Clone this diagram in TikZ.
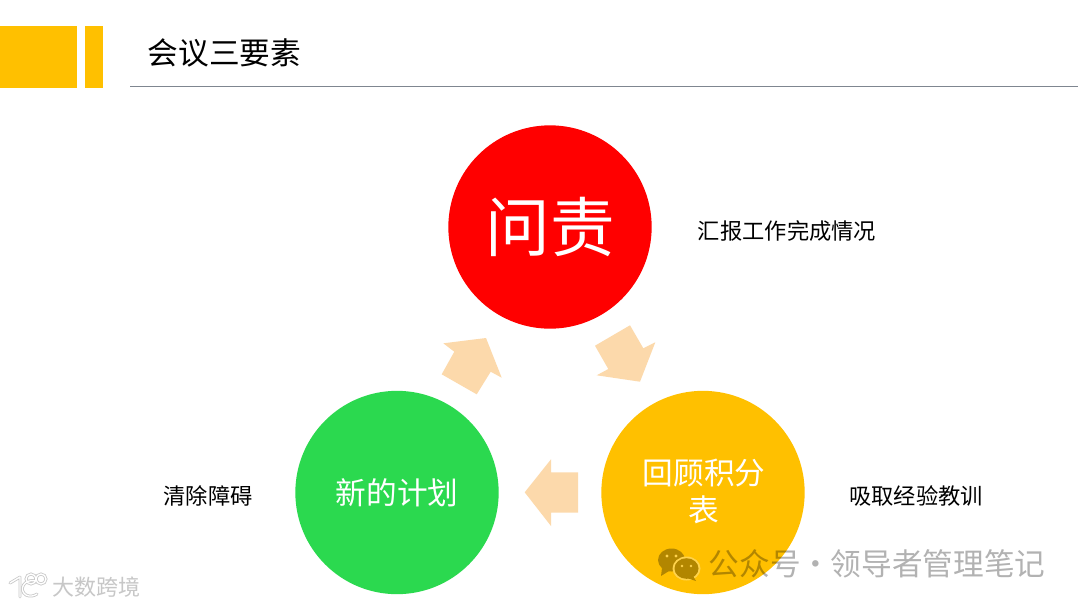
\documentclass[tikz,border=0pt]{standalone}
\usepackage{fontspec}
\setmainfont{Noto Sans CJK SC}
\newfontfamily\cjk{Noto Sans CJK SC}
\usetikzlibrary{calc}
\definecolor{amber}{HTML}{FFC000}
\definecolor{peach}{HTML}{FCD9AB}
\definecolor{leaf}{HTML}{2BD94F}
\definecolor{rulegray}{HTML}{7F8690}
\tikzset{
  x=0.75pt,y=-0.75pt,
  disc/.style={circle,minimum size=152.5pt,inner sep=0pt,text=white,align=center},
  blockarrow/.style={fill=peach,draw=none},
  note/.style={inner sep=0pt,text=black,font=\cjk\fontsize{16.7}{20}\selectfont},
  mark text/.style={inner sep=0pt,text=black,text opacity=0.3,font=\cjk\fontsize{23}{26}\selectfont},
}
\begin{document}
\begin{tikzpicture}
\useasboundingbox (0,0) rectangle (1080,607);
\fill[white] (0,0) rectangle (1080,607);
% header
\fill[amber] (0,26) rectangle (77,88);
\fill[amber] (85,26) rectangle (103,88);
\node[inner sep=0pt,font=\cjk\fontsize{23}{26}\selectfont] (title) at (224.5,53) {会议三要素};
\draw[rulegray,line width=0.9pt] (130,86.5) -- (1078,86.5);
% circles
\node[disc,fill=red,font=\cjk\fontsize{48.5}{50}\selectfont] (ask) at (550,227) {问责};
\node[disc,fill=leaf,font=\cjk\fontsize{23}{26}\selectfont] (plan) at (397,492.5) {新的计划};
\node[disc,fill=amber] (review) at (703,492.5) {};
\node[inner sep=0pt,text=white,align=center,font=\cjk\fontsize{23}{27.75}\selectfont] (reviewtext) at (704,491) {回顾积分\\表};
% block arrows
\fill[blockarrow] (595,345.7) -- (630,325.3) -- (643.3,348.3) -- (655.3,342.3) -- (640,381.7) -- (596.7,375.3) -- (608.3,369) -- cycle;
\fill[blockarrow] (578,472.3) -- (578,512.7) -- (551,512.7) -- (551,526) -- (524.7,492.3) -- (551,459.3) -- (551,472.3) -- cycle;
\fill[blockarrow] (476.7,394.3) -- (441.7,374.3) -- (454.3,351.7) -- (443.3,343.3) -- (486,338) -- (501.7,377.7) -- (490.7,371.7) -- cycle;
% notes
\node[note] (n1) at (787,231.5) {汇报工作完成情况};
\node[note] (n2) at (916,495.5) {吸取经验教训};
\node[note] (n3) at (208,496) {清除障碍};
% watermark right
\begin{scope}[transparency group,opacity=0.3]
\fill[black] (671.5,560) ellipse [x radius=13.5,y radius=11.5];
\fill[black] (662,568) -- (661,576) -- (669,571) -- cycle;
\fill[white] (686.5,568.5) ellipse [x radius=14,y radius=12];
\fill[black] (686.5,568.5) ellipse [x radius=12,y radius=10.3];
\fill[black] (693,576) -- (696,581) -- (687,578) -- cycle;
\fill[white] (667,556) circle (1.7) (676,556) circle (1.7) (682,566) circle (1.4) (691,566) circle (1.4);
\end{scope}
\node[mark text,anchor=west] (wm) at (708.5,564) {公众号·\kern-0.5pt领导者管理笔记};
% watermark left
\begin{scope}[line cap=round]
\foreach \w/\c in {2.2pt/black!22,1pt/white}{
  \draw[\c,line width=\w] (10,583) -- (20,577) (20,577) -- (20,597);
  \draw[\c,line width=\w] (36,581) .. controls (24,578) and (18,590) .. (26,595) .. controls (30,597) and (34,596) .. (37,594);
  \draw[\c,line width=\w] (31,579) circle [radius=5];
  \draw[\c,line width=\w] (41,579) circle [radius=5];
}
\end{scope}
\node[inner sep=0pt,text=black!22,font=\cjk\fontsize{16.5}{20}\selectfont] (logo) at (96,587) {大数跨境};
\end{tikzpicture}
\end{document}
